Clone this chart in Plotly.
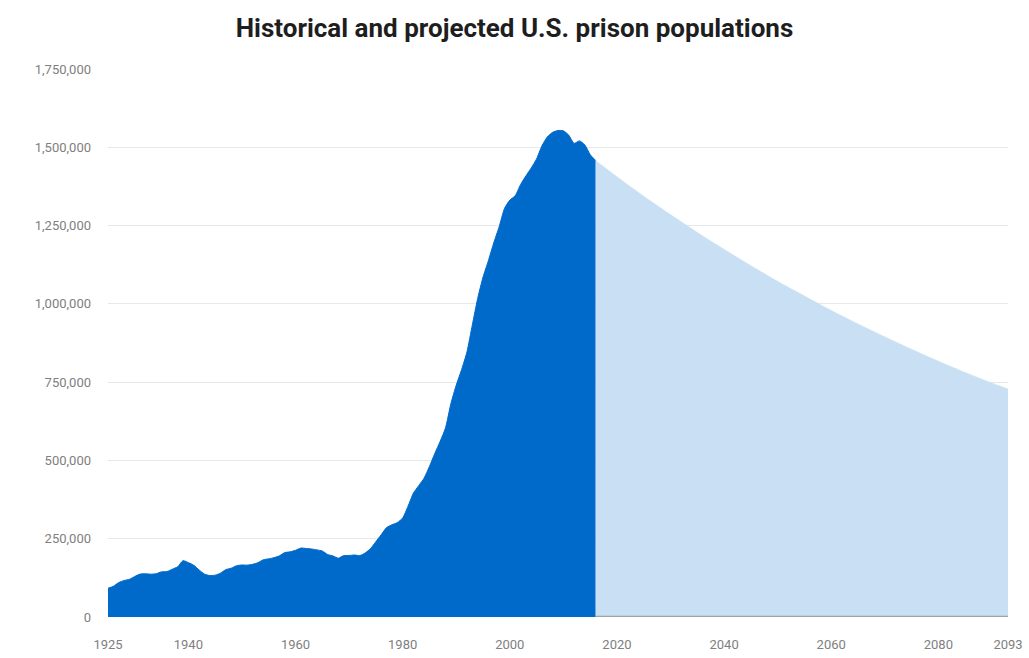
import plotly.graph_objects as go

hist_years = list(range(1925, 2017))
hist_values = [
    91669, 97991, 109983, 116390, 120496, 129453, 137082, 137997, 136810, 138316,
    144180, 145038, 152741, 160285, 179818, 173706, 165439, 150384, 137220, 132456,
    133649, 140079, 151304, 155977, 163749, 166123, 165680, 168233, 173579, 182901,
    185780, 189565, 195414, 205643, 208105, 212953, 220149, 218830, 217283, 214336,
    210895, 199654, 194896, 187914, 196007, 196429, 198061, 196092, 204211, 218466,
    240593, 262833, 285456, 294396, 301470, 315974, 353673, 395516, 419346, 443398,
    480568, 522084, 560812, 603732, 680907, 739980, 789610, 846277, 932074, 1016691,
    1085022, 1137722, 1194581, 1245402, 1304074, 1331278, 1345217, 1380516, 1408361, 1433728,
    1462866, 1504598, 1532851, 1547742, 1553574, 1552669, 1538847, 1512430, 1520403, 1507781,
    1476847, 1458173,
]

proj_years = [2016, 2020, 2025, 2030, 2035, 2040, 2045, 2050, 2055, 2060,
              2065, 2070, 2075, 2080, 2085, 2090, 2093]
proj_values = [1458173, 1406000, 1344000, 1285000, 1228000, 1174000, 1122000, 1072000,
               1025000, 979000, 936000, 895000, 855000, 817000, 781000, 747000, 728000]

x_tickvals = [1925, 1940, 1960, 1980, 2000, 2020, 2040, 2060, 2080, 2093]
x_ticktext = [str(v) for v in x_tickvals]
y_tickvals = [0, 250000, 500000, 750000, 1000000, 1250000, 1500000, 1750000]

DARK = "#006ACA"
LIGHT = "#C9DFF3"
TICKFONT = dict(family="Liberation Sans Narrow, Roboto, Arial Narrow, sans-serif", size=13, color="#808080")

fig = go.Figure()
fig.add_trace(go.Scatter(
    x=proj_years, y=proj_values, mode="lines", fill="tozeroy",
    fillcolor=LIGHT, line=dict(color=LIGHT, width=0.5, shape="spline", smoothing=0.6),
    hoverinfo="x+y", showlegend=False,
))
# baseline (axis line) visible under the projected area
fig.add_trace(go.Scatter(
    x=[proj_years[0], proj_years[-1]], y=[0, 0], mode="lines",
    line=dict(color="#A0A3A8", width=2.5), hoverinfo="skip", showlegend=False,
))
fig.add_trace(go.Scatter(
    x=hist_years, y=hist_values, mode="lines", fill="tozeroy",
    fillcolor=DARK, line=dict(color=DARK, width=1, shape="spline", smoothing=0.6),
    hoverinfo="x+y", showlegend=False,
))

fig.update_layout(
    width=1029, height=658,
    paper_bgcolor="white", plot_bgcolor="white",
    margin=dict(l=108, r=21, t=69, b=41),
    title=dict(
        text="<b>Historical and projected U.S. prison populations</b>",
        x=0.5, xanchor="center", y=0.958, yanchor="middle",
        font=dict(family="Roboto, sans-serif", size=26, color="#1E1E1E"),
    ),
    xaxis=dict(
        range=[1925, 2093], tickmode="array", tickvals=x_tickvals, ticktext=x_ticktext,
        showgrid=False, zeroline=False, showline=False, ticks="",
        tickfont=TICKFONT, ticklabelstandoff=18, automargin=False,
    ),
    yaxis=dict(
        range=[0, 1750000], tickmode="array", tickvals=y_tickvals, tickformat=",d",
        showgrid=True, gridcolor="#E8E8E8", gridwidth=1,
        zeroline=False,
        showline=False, ticks="", tickfont=TICKFONT, ticklabelstandoff=16, automargin=False,
    ),
)

fig.write_html("out.html")
